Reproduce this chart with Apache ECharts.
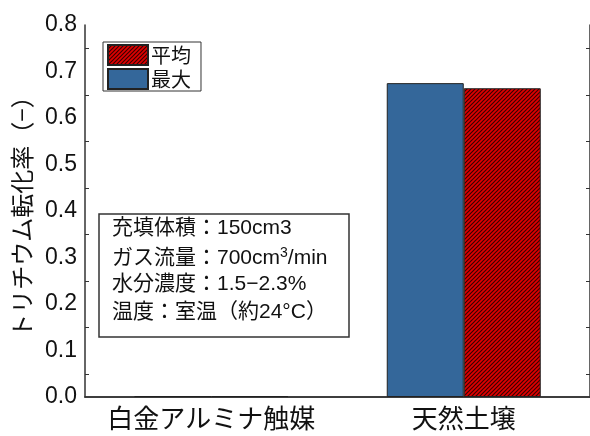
<!DOCTYPE html>
<html>
<head>
<meta charset="utf-8">
<script src="https://cdn.jsdelivr.net/npm/echarts@6/dist/echarts.min.js"></script>
<style>
  html, body { margin: 0; padding: 0; background: #fff; }
  #chart { width: 590px; height: 436px; }
</style>
</head>
<body>
<div id="chart"></div>
<script>
var categories = ["白金アルミナ触媒", "天然土壌"];
var maxValues = [0.002, 0.675];
var avgValues = [0.002, 0.664];
var yTicks = [0, 0.1, 0.2, 0.3, 0.4, 0.5, 0.6, 0.7, 0.8];
var noteLines = ["充填体積：150cm3", "ガス流量：700cm{sup|3}/min", "水分濃度：1.5−2.3%", "温度：室温（約24°C）"];

// red hatch tile
function hatch() {
  var c = document.createElement("canvas");
  c.width = 4; c.height = 4;
  var g = c.getContext("2d");
  g.fillStyle = "#e00000";
  g.fillRect(0, 0, 4, 4);
  g.strokeStyle = "#3a0000";
  g.lineWidth = 1.2;
  g.beginPath();
  g.moveTo(0, 4); g.lineTo(4, 0);
  g.moveTo(-1, 1); g.lineTo(1, -1);
  g.moveTo(3, 5); g.lineTo(5, 3);
  g.stroke();
  return { image: c, repeat: "repeat" };
}

var jp = "Noto Sans CJK JP";
var mix = "Liberation Sans, Noto Sans CJK JP";
var axisCol = "#333";
var txt = "#111";

var chartDom = document.getElementById("chart");
var myChart = echarts.init(chartDom);
var option = {
  animation: false,
  grid: { left: 85, top: 25, width: 509, height: 372 },
  legend: {
    data: ["平均", "最大"],
    orient: "vertical",
    left: 103, top: 42,
    icon: "rect",
    itemWidth: 40, itemHeight: 20, itemGap: 2,
    padding: [2, 10, 1, 4],
    borderColor: "#333", borderWidth: 1,
    textStyle: { fontFamily: jp, fontSize: 20, color: txt, padding: [0, 0, 0, -2] }
  },
  xAxis: [{
    type: "category",
    data: categories,
    axisLine: { lineStyle: { color: axisCol, width: 1.5 } },
    axisTick: { inside: true, length: 5, lineStyle: { color: axisCol } },
    axisLabel: { fontFamily: jp, fontSize: 26, color: txt, margin: 8, interval: 0, hideOverlap: false }
  }, {
    type: "category",
    position: "top",
    data: categories,
    axisLine: { lineStyle: { color: axisCol, width: 1.5 } },
    axisTick: { show: false },
    axisLabel: { show: false }
  }],
  yAxis: [{
    type: "value",
    min: 0, max: 0.8, interval: 0.1,
    name: "トリチウム転化率（−）",
    nameLocation: "middle",
    nameGap: 50,
    nameTextStyle: { fontFamily: jp, fontSize: 24, color: txt },
    axisLine: { show: true, lineStyle: { color: axisCol, width: 1.5 } },
    axisTick: { inside: true, length: 8, lineStyle: { color: axisCol } },
    minorTick: { show: true, splitNumber: 2, length: 4, lineStyle: { color: axisCol } },
    splitLine: { show: false },
    axisLabel: {
      fontFamily: "Liberation Sans", fontSize: 23, color: txt, margin: 8,
      formatter: function (v) { return yTicks.indexOf(Math.round(v * 10) / 10) >= 0 ? v.toFixed(1) : ""; }
    }
  }, {
    type: "value",
    position: "right",
    min: 0, max: 0.8, interval: 0.1,
    axisLine: { show: true, lineStyle: { color: axisCol, width: 1.5 } },
    axisTick: { inside: true, length: 8, lineStyle: { color: axisCol } },
    minorTick: { show: true, splitNumber: 2, length: 4, lineStyle: { color: axisCol } },
    splitLine: { show: false },
    axisLabel: { show: false }
  }],
  series: [{
    name: "最大",
    type: "bar",
    data: maxValues,
    barWidth: 77,
    barGap: "0%",
    itemStyle: { color: "#34679a", borderColor: "#222", borderWidth: 1 }
  }, {
    name: "平均",
    type: "bar",
    data: avgValues,
    barWidth: 77,
    barGap: "0%",
    itemStyle: { color: hatch(), borderColor: "#222", borderWidth: 1 }
  }],
  graphic: [{
    type: "rect",
    shape: { x: 99, y: 214, width: 250, height: 123 },
    style: { fill: "#fff", stroke: "#333", lineWidth: 1.5 },
    z: 10
  }].concat(noteLines.map(function (t, i) {
    return {
      type: "text",
      left: 112, top: 218 + i * 28,
      z: 11,
      style: {
        text: t,
        fontFamily: mix, fontSize: 21, fill: txt,
        rich: { sup: { fontFamily: mix, fontSize: 14, fill: txt, verticalAlign: "top", padding: [0, 0, 10, 0] } }
      }
    };
  }))
};
option && myChart.setOption(option);
</script>
</body>
</html>
